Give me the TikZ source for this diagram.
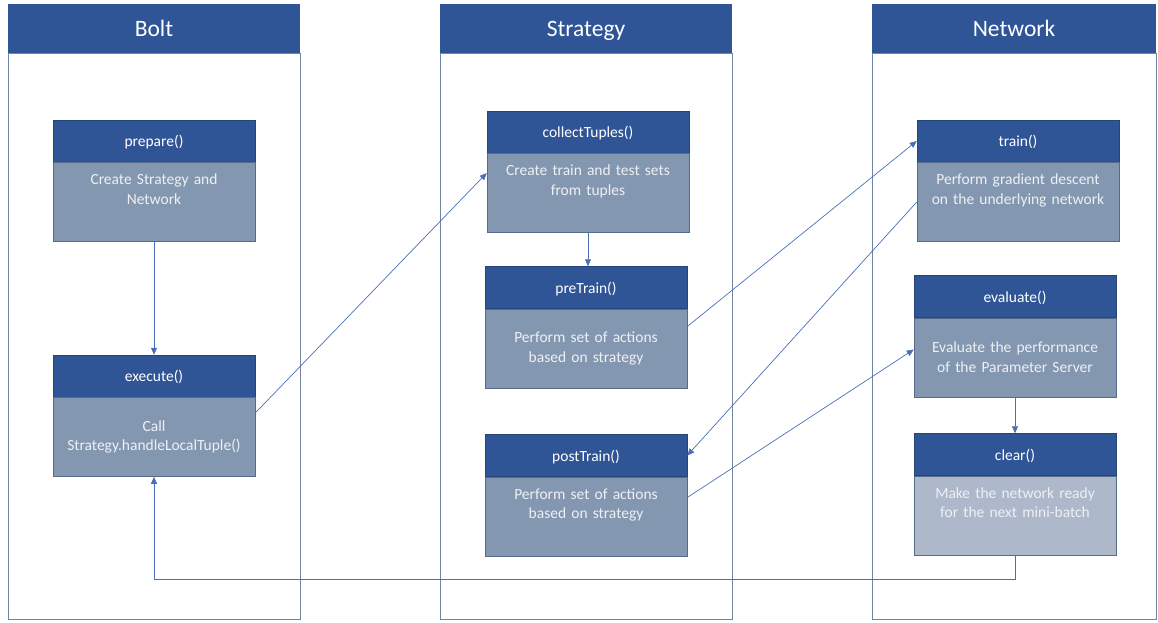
\documentclass[tikz,border=0pt]{standalone}
\usepackage{fontspec}
\setmainfont{Carlito}
\usetikzlibrary{positioning, arrows.meta}

\definecolor{hdrblue}{HTML}{2F5597}
\definecolor{bodyblue}{HTML}{8497B0}
\definecolor{bodylight}{HTML}{ADB9CA}
\definecolor{lanegray}{HTML}{7384A3}
\definecolor{flowblue}{HTML}{4A6FB8}
\definecolor{softwhite}{HTML}{EEF0F4}

\begin{document}
\begin{tikzpicture}[
    x=1pt, y=-1pt,
    node distance=0pt,
    lanehead/.style={rectangle, fill=hdrblue, text=white, minimum width=292pt, minimum height=49pt, text height=18pt, text depth=2pt, font=\fontsize{23.5}{27}\selectfont},
    lane/.style={draw=lanegray, line width=0.8pt},
    methhead/.style={rectangle, fill=hdrblue, draw=hdrblue!80!black, line width=0.5pt, text=white, minimum width=202pt, minimum height=42pt, text height=12pt, text depth=1pt, font=\fontsize{15.5}{18}\selectfont},
    methbody/.style={rectangle, fill=bodyblue, draw=hdrblue!50!gray, line width=0.5pt, text=softwhite, minimum width=202pt, minimum height=79pt, text width=194pt, align=center, font=\fontsize{15.5}{19.8}\selectfont},
    flow/.style={-{Triangle[length=7pt, width=6pt]}, flowblue, line width=0.7pt}
]
\useasboundingbox (0,0) rectangle (1158,622);

% Lanes
\draw[lane] (8,53) rectangle (300,619);
\draw[lane] (440,53) rectangle (732,619);
\draw[lane] (872,53) rectangle (1156,619);
\node[lanehead] (bolt) at (154,28.5) {Bolt};
\node[lanehead] (strategy) at (586,28.5) {Strategy};
\node[lanehead, minimum width=284pt] (network) at (1014,28.5) {Network};

% Bolt
\node[methhead] (prepH) at (154,141) {prepare()};
\node[methbody, below=of prepH] (prep) {Create Strategy and\\Network\\\strut};
\node[methhead] (execH) at (154,376) {execute()};
\node[methbody, below=of execH] (exec) {Call\\Strategy.handleLocalTuple()};

% Strategy
\node[methhead] (collectH) at (588,132) {collectTuples()};
\node[methbody, below=of collectH] (collect) {Create train and test sets\\from tuples\\\strut};
\node[methhead] (preH) at (586,287.5) {preTrain()};
\node[methbody, below=of preH] (pre) {Perform set of actions\\based on strategy};
\node[methhead] (postH) at (586,455.5) {postTrain()};
\node[methbody, below=of postH] (post) {Perform set of actions\\based on strategy\\\strut};

% Network
\node[methhead] (trainH) at (1018,141) {train()};
\node[methbody, below=of trainH] (train) {Perform gradient descent\\on the underlying network\\\strut};
\node[methhead] (evalH) at (1015,296.5) {evaluate()};
\node[methbody, below=of evalH] (eval) {Evaluate the performance\\of the Parameter Server};
\node[methhead] (clearH) at (1015,454.5) {clear()};
\node[methbody, fill=bodylight, below=of clearH] (clear) {Make the network ready\\for the next mini-batch\\\strut};

% Flow inside lanes
\draw[flow] (prep) -- (execH);
\draw[flow] (collect.south) -- (collect.south |- preH.north);
\draw[flow] (eval) -- (clearH);

% Flow across lanes
\draw[flow] ([yshift=24pt]exec.east) -- ([yshift=20pt]collect.west);
\draw[flow] ([yshift=22pt]pre.east) -- (trainH.west);
\draw[flow] (train.west) -- (postH.east);
\draw[flow] ([yshift=19pt]post.east) -- ([yshift=8pt]eval.west);
\draw[flow] (clear.south) -- ++(0,24) -| (exec.south);
\end{tikzpicture}
\end{document}
